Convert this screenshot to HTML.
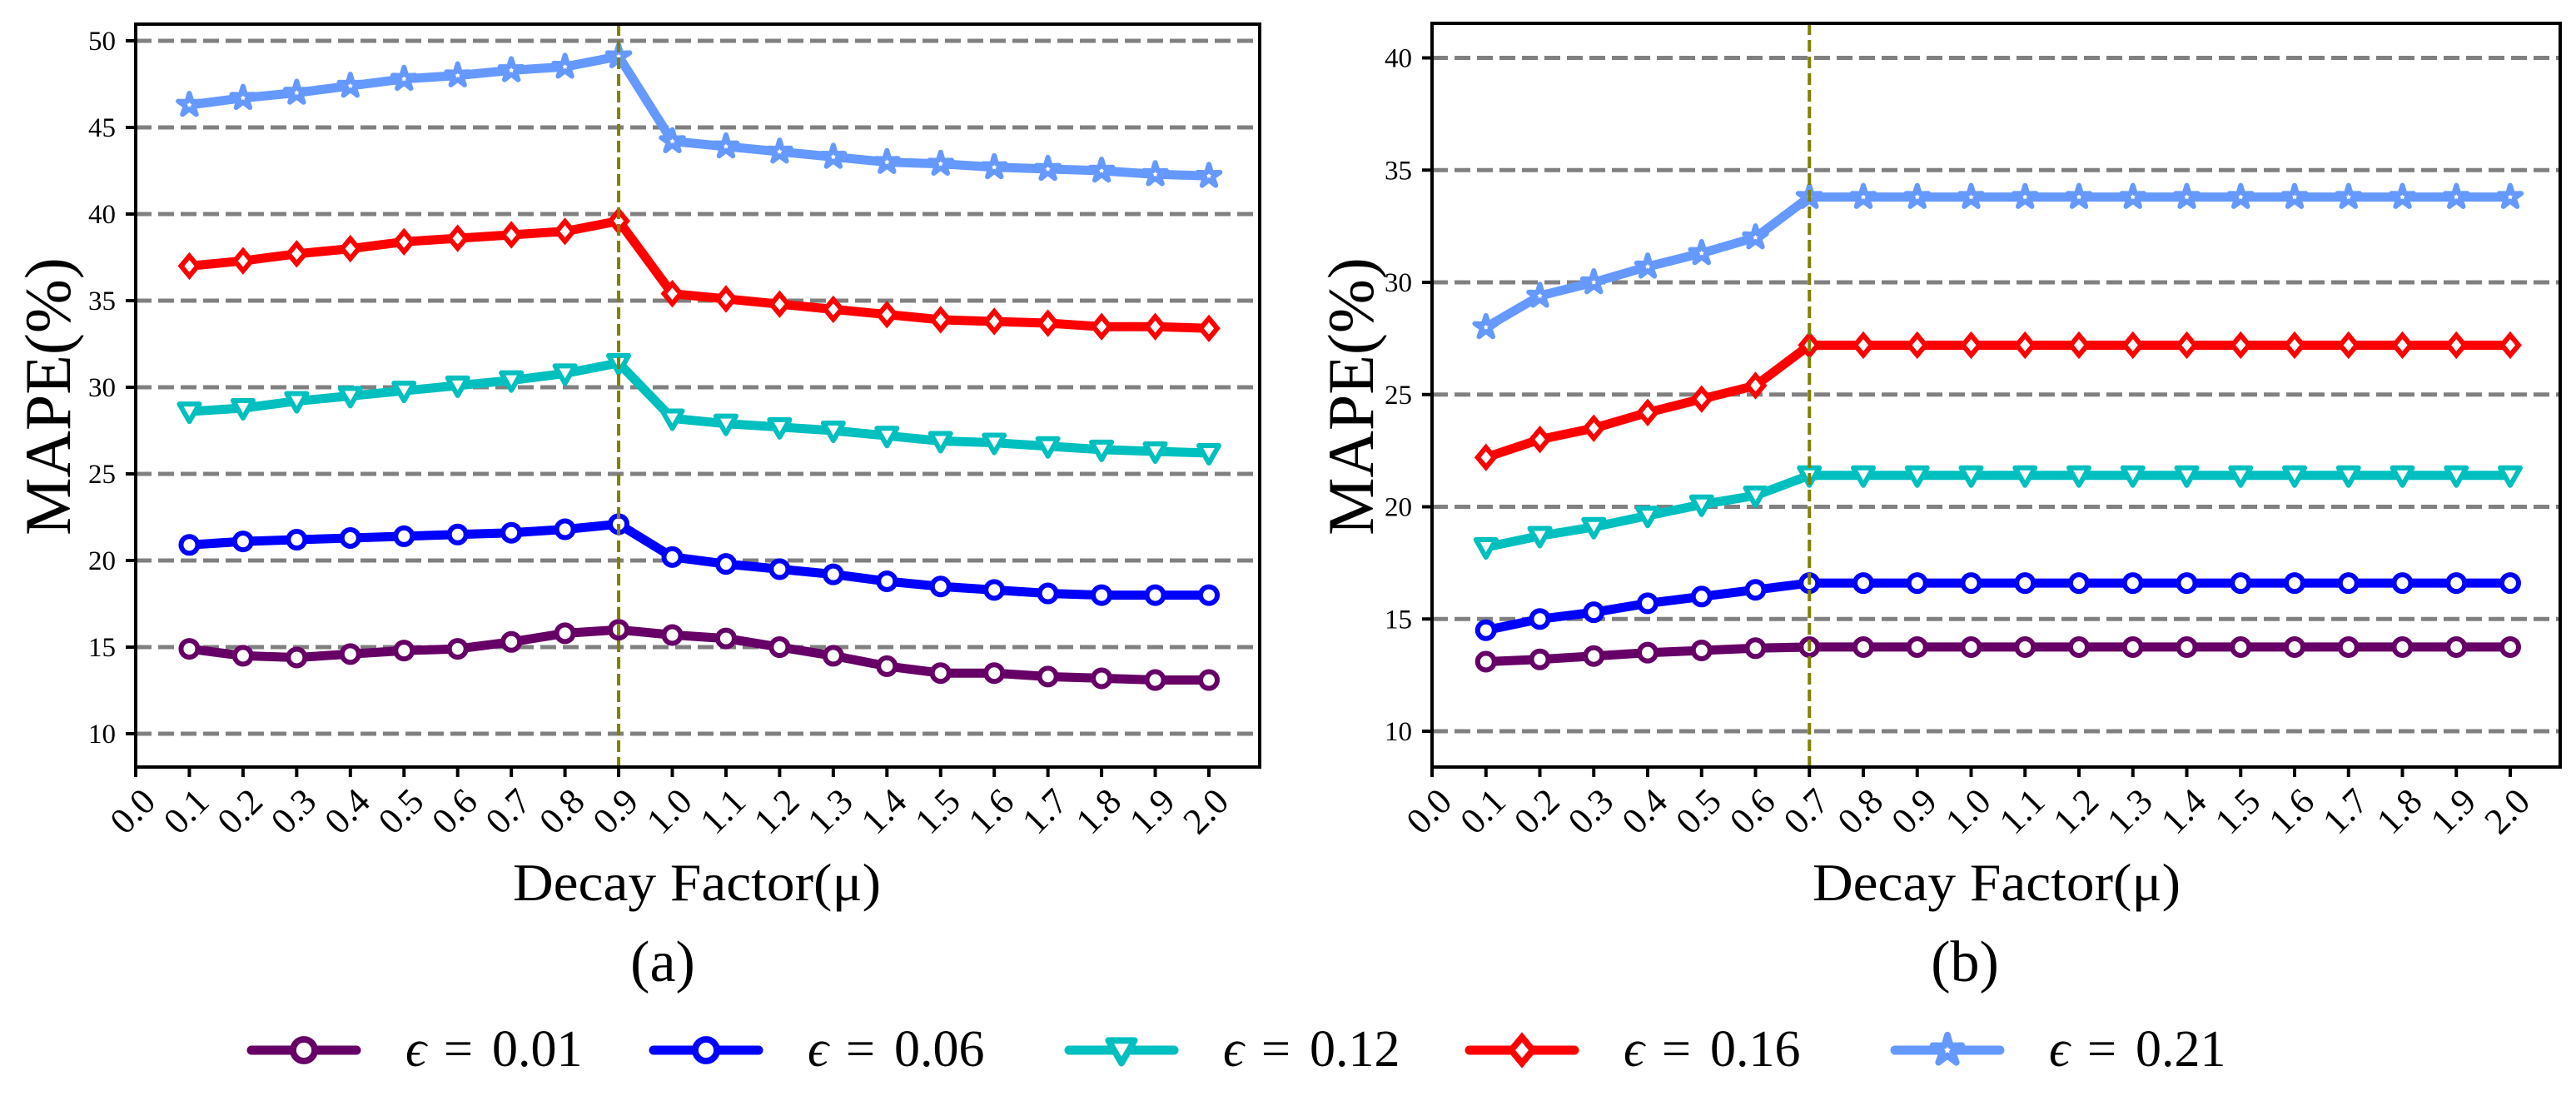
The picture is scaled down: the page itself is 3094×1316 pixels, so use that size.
<!DOCTYPE html>
<html><head><meta charset="utf-8"><style>
html,body{margin:0;padding:0;background:#fff;}
svg{display:block;font-family:"Liberation Serif",serif;}
</style></head><body>
<svg id="chart" width="3094" height="1316" viewBox="0 0 3094 1316" xmlns="http://www.w3.org/2000/svg"></svg>
<script>
const xTicks = ["0.0","0.1","0.2","0.3","0.4","0.5","0.6","0.7","0.8","0.9","1.0","1.1","1.2","1.3","1.4","1.5","1.6","1.7","1.8","1.9","2.0"];
const xValues = [0.1,0.2,0.3,0.4,0.5,0.6,0.7,0.8,0.9,1.0,1.1,1.2,1.3,1.4,1.5,1.6,1.7,1.8,1.9,2.0];
const seriesLabels = ["0.01","0.06","0.12","0.16","0.21"];
const a001 = [14.9,14.5,14.4,14.6,14.8,14.9,15.3,15.8,16.0,15.7,15.5,15.0,14.5,13.9,13.5,13.5,13.3,13.2,13.1,13.1];
const a006 = [20.9,21.1,21.2,21.3,21.4,21.5,21.6,21.8,22.1,20.2,19.8,19.5,19.2,18.8,18.5,18.3,18.1,18.0,18.0,18.0];
const a012 = [28.6,28.8,29.2,29.5,29.8,30.1,30.4,30.8,31.4,28.2,27.9,27.7,27.5,27.2,26.9,26.8,26.6,26.4,26.3,26.2];
const a016 = [37.0,37.3,37.7,38.0,38.4,38.6,38.8,39.0,39.6,35.4,35.1,34.8,34.5,34.2,33.9,33.8,33.7,33.5,33.5,33.4];
const a021 = [46.3,46.7,47.0,47.4,47.8,48.0,48.3,48.5,49.1,44.2,43.9,43.6,43.3,43.0,42.9,42.7,42.6,42.5,42.3,42.2];
const b001 = [13.1,13.2,13.35,13.5,13.6,13.7,13.75,13.75,13.75,13.75,13.75,13.75,13.75,13.75,13.75,13.75,13.75,13.75,13.75,13.75];
const b006 = [14.5,15.0,15.3,15.7,16.0,16.3,16.6,16.6,16.6,16.6,16.6,16.6,16.6,16.6,16.6,16.6,16.6,16.6,16.6,16.6];
const b012 = [18.2,18.7,19.1,19.6,20.1,20.5,21.4,21.4,21.4,21.4,21.4,21.4,21.4,21.4,21.4,21.4,21.4,21.4,21.4,21.4];
const b016 = [22.2,23.0,23.5,24.2,24.8,25.4,27.2,27.2,27.2,27.2,27.2,27.2,27.2,27.2,27.2,27.2,27.2,27.2,27.2,27.2];
const b021 = [28.0,29.4,30.0,30.7,31.3,32.0,33.8,33.8,33.8,33.8,33.8,33.8,33.8,33.8,33.8,33.8,33.8,33.8,33.8,33.8];
const aYTicks = [10,15,20,25,30,35,40,45,50];
const bYTicks = [10,15,20,25,30,35,40];
const aVLine = 0.9;
const bVLine = 0.7;

const NS="http://www.w3.org/2000/svg";
const svg=document.getElementById('chart');
const colors=["#660066","#0000ff","#00bfbf","#ff0000","#6699ff"];
const markers=["circle","circle","tri","diamond","star"];
function mk(tag,attrs,parent){const e=document.createElementNS(NS,tag);for(const k in attrs)e.setAttribute(k,attrs[k]);(parent||svg).appendChild(e);return e;}

function markerShape(type,x,y,color,g,s){
  s=s||1;
  let e;
  if(type==="circle"){e=mk('circle',{cx:x,cy:y,r:10*s,fill:'#fff',stroke:color,'stroke-width':6*s},g);}
  else if(type==="tri"){e=mk('path',{d:`M${x-12*s},${y-9*s}L${x+12*s},${y-9*s}L${x},${y+12*s}Z`,fill:'#fff',stroke:color,'stroke-width':6*s,'stroke-linejoin':'round'},g);}
  else if(type==="diamond"){e=mk('path',{d:`M${x},${y-12*s}L${x+10*s},${y}L${x},${y+12*s}L${x-10*s},${y}Z`,fill:'#fff',stroke:color,'stroke-width':6*s},g);}
  else {let d='';for(let i=0;i<10;i++){const r=(i%2?5:14)*s;const a=-Math.PI/2+i*Math.PI/5;d+=(i?'L':'M')+(x+r*Math.cos(a)).toFixed(1)+','+(y+r*Math.sin(a)).toFixed(1);}
    e=mk('path',{d:d+'Z',fill:'#fff',stroke:color,'stroke-width':6*s,'stroke-linejoin':'round'},g);}
  
  
}

function panel(cfg){
  const g=mk('g',{});
  
  
  const X=v=>cfg.x0+(v/2)*(cfg.x2-cfg.x0);
  const Y=v=>cfg.yA+(v-cfg.vA)*(cfg.yB-cfg.yA)/(cfg.vB-cfg.vA);
  cfg.yticks.forEach(t=>{
    const l=mk('line',{x1:cfg.left,x2:cfg.right,y1:Y(t),y2:Y(t),stroke:'#808080','stroke-width':5,'stroke-dasharray':'19,8'},g);
    
    
    const tk=mk('line',{x1:cfg.left-12,x2:cfg.left,y1:Y(t),y2:Y(t),stroke:'#000','stroke-width':4},g);
    
    
    const tx=mk('text',{x:cfg.left-24,y:Y(t)+11,'font-size':33,'text-anchor':'end',fill:'#000'},g);
    tx.textContent=t;
    
    
  });
  xTicks.forEach((t,i)=>{
    const x=X(i/10);
    const tk=mk('line',{x1:x,x2:x,y1:cfg.bottom,y2:cfg.bottom+12,stroke:'#000','stroke-width':4},g);
    
    
    const ax=x+26, ay=cfg.bottom+44;
    const tx=mk('text',{x:ax,y:ay,'font-size':44,'text-anchor':'end',fill:'#000',transform:`rotate(-45 ${ax} ${ay})`},g);
    tx.textContent=t;
    
    
  });
  cfg.series.forEach((s,si)=>{
    const sg=mk('g',{},g);
    
    
    const pts=s.map((v,i)=>X(xValues[i]).toFixed(1)+','+Y(v).toFixed(1)).join(' ');
    const pl=mk('polyline',{points:pts,fill:'none',stroke:colors[si],'stroke-width':11,'stroke-linejoin':'round'},sg);
    
    
    s.forEach((v,i)=>markerShape(markers[si],X(xValues[i]),Y(v),colors[si],sg));
  });
  const vl=mk('line',{x1:X(cfg.vline),x2:X(cfg.vline),y1:cfg.top,y2:cfg.bottom,stroke:'#808000','stroke-width':4,'stroke-dasharray':'14,6'},g);
  
  
  const fr=mk('rect',{x:cfg.left,y:cfg.top,width:cfg.right-cfg.left,height:cfg.bottom-cfg.top,fill:'none',stroke:'#000','stroke-width':4},g);
  
  
  const yl=mk('text',{x:cfg.ylx,y:476,'font-size':78,'text-anchor':'middle',fill:'#000',transform:`rotate(-90 ${cfg.ylx} 476)`},g);
  yl.textContent='MAPE(%)';
  
  
  const xl=mk('text',{x:cfg.xlx,y:1081,'font-size':64,'text-anchor':'middle',fill:'#000',textLength:442,lengthAdjust:'spacingAndGlyphs'},g);
  xl.textContent='Decay Factor(\u03bc)';
  
  
  const cap=mk('text',{x:cfg.capx,y:1178,'font-size':70,'text-anchor':'middle',fill:'#000'},g);
  cap.textContent=cfg.caption;
  
  
}

panel({name:'panel-a',left:163,right:1513,top:29,bottom:921,x0:163,x2:1452,yA:49,vA:50,yB:881,vB:10,
  yticks:aYTicks,series:[a001,a006,a012,a016,a021],vline:aVLine,ylx:84,xlx:837,capx:796,caption:'(a)'});
panel({name:'panel-b',left:1720,right:3075,top:28,bottom:921,x0:1720,x2:3015,yA:69.5,vA:40,yB:878,vB:10,
  yticks:bYTicks,series:[b001,b006,b012,b016,b021],vline:bVLine,ylx:1649,xlx:2398,capx:2360,caption:'(b)'});

const lg=mk('g',{});


const legX=[298,781,1280,1761,2272];
seriesLabels.forEach((lab,i)=>{
  const eg=mk('g',{},lg);
  
  
  const y=1261, x=legX[i];
  const l=mk('line',{x1:x+4,x2:x+130,y1:y,y2:y,stroke:colors[i],'stroke-width':11,'stroke-linecap':'round'},eg);
  
  
  markerShape(markers[i],x+67,y,colors[i],eg,1.3);
  const t=mk('text',{x:x+189,y:y+19,'font-size':62,fill:'#000'},eg);
  t.innerHTML='<tspan font-style="italic">\u03f5</tspan><tspan x="'+(x+235)+'">=</tspan><tspan x="'+(x+293)+'">'+lab+'</tspan>';
  
  
});
</script>
</body></html>
